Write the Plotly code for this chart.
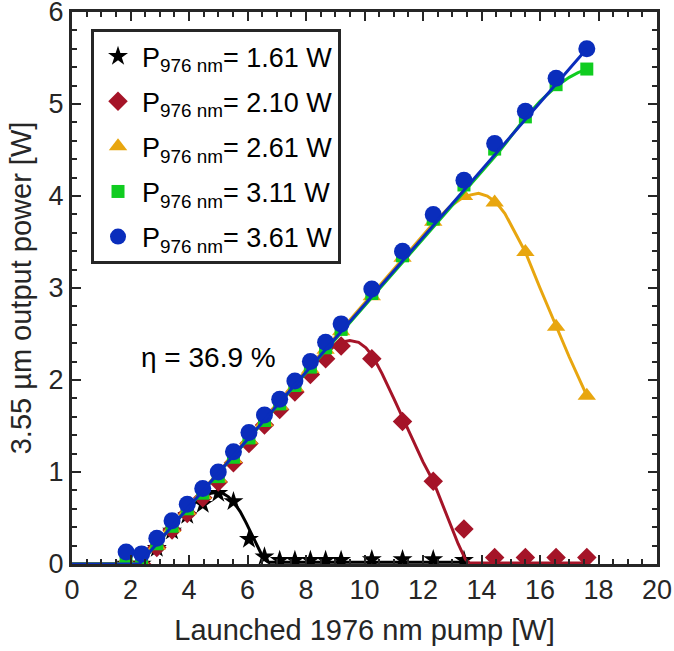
import plotly.graph_objects as go

# ---- measured data (launched 1976 nm pump [W] vs 3.55 um output [W]) ----
pump = [1.85, 2.38, 2.9, 3.42, 3.94, 4.47, 5.0, 5.52, 6.05, 6.58, 7.1, 7.62, 8.15,
        8.67, 9.2, 10.25, 11.3, 12.35, 13.4, 14.45, 15.5, 16.55, 17.6]

p161 = [0.0, 0.0, 0.17, 0.36, 0.53, 0.65, 0.77, 0.68, 0.27, 0.08, 0.04, 0.04, 0.04,
        0.04, 0.04, 0.05, 0.05, 0.05, 0.04]
p210 = [0.0, 0.0, 0.18, 0.37, 0.55, 0.72, 0.89, 1.10, 1.31, 1.51, 1.68, 1.87, 2.06,
        2.23, 2.37, 2.23, 1.55, 0.90, 0.38, 0.07, 0.07, 0.07, 0.07]
p261 = [0.04, 0.02, 0.20, 0.39, 0.58, 0.75, 0.93, 1.14, 1.35, 1.54, 1.72, 1.92, 2.12,
        2.33, 2.53, 2.91, 3.33, 3.72, 4.00, 3.93, 3.39, 2.58, 1.83]
p311 = [0.07, 0.04, 0.22, 0.41, 0.60, 0.77, 0.95, 1.16, 1.37, 1.56, 1.74, 1.94, 2.14,
        2.35, 2.55, 2.94, 3.35, 3.75, 4.12, 4.51, 4.86, 5.21, 5.38]
p361 = [0.13, 0.11, 0.28, 0.47, 0.65, 0.82, 1.00, 1.22, 1.43, 1.62, 1.79, 1.99, 2.20,
        2.41, 2.61, 2.99, 3.40, 3.80, 4.17, 4.57, 4.92, 5.28, 5.60]

# ---- fitted curves ----
fit161_x = [0, 2.3, 3.5, 4.0, 4.3, 4.55, 4.75, 4.95, 5.15, 5.35, 5.55, 5.75, 5.95, 6.15,
            6.35, 6.5, 6.62, 6.72, 13.4]
fit161_y = [0, 0, 0.44, 0.62, 0.69, 0.74, 0.77, 0.78, 0.77, 0.73, 0.66, 0.57, 0.45, 0.32,
            0.18, 0.09, 0.04, 0.02, 0.02]
fit210_x = [0, 2.3, 7.6, 8.2, 8.6, 8.9, 9.2, 9.5, 9.8, 10.05, 10.3, 10.6, 11.0, 11.33,
            11.7, 12.0, 12.35, 12.8, 13.2, 13.45, 13.6, 17.6]
fit210_y = [0, 0, 1.94, 2.15, 2.27, 2.35, 2.41, 2.43, 2.41, 2.35, 2.25, 2.07, 1.80, 1.57,
            1.30, 1.11, 0.90, 0.55, 0.22, 0.05, 0.01, 0.01]
fit261_x = [0, 2.3, 12.4, 12.9, 13.3, 13.6, 13.9, 14.2, 14.5, 14.8, 15.1, 15.5, 16.0,
            16.55, 17.0, 17.6]
fit261_y = [0, 0, 3.72, 3.88, 3.97, 4.01, 4.03, 4.00, 3.93, 3.81, 3.63, 3.39, 3.00,
            2.58, 2.25, 1.83]
fit311_x = [0, 2.3, 14.6, 15.0, 15.5, 16.0, 16.55, 17.0, 17.3, 17.6]
fit311_y = [0, 0, 4.48, 4.65, 4.85, 5.03, 5.19, 5.29, 5.34, 5.38]
fit361_x = [0, 2.3, 17.6]
fit361_y = [0, 0, 5.60]

names = ["P<sub>976 nm</sub>= 1.61 W", "P<sub>976 nm</sub>= 2.10 W",
         "P<sub>976 nm</sub>= 2.61 W", "P<sub>976 nm</sub>= 3.11 W",
         "P<sub>976 nm</sub>= 3.61 W"]
colors = ["#000000", "#A51428", "#E8A60F", "#10CC20", "#0A2DBC"]
symbols = ["star", "diamond", "triangle-up", "square", "circle"]
sizes = [15, 15, 16, 13, 17]
ys = [p161, p210, p261, p311, p361]
fits = [(fit161_x, fit161_y), (fit210_x, fit210_y), (fit261_x, fit261_y),
        (fit311_x, fit311_y), (fit361_x, fit361_y)]

FONT = "Liberation Sans, Arial, Helvetica, sans-serif"
AX = "#262626"

fig = go.Figure()
for i in range(5):
    fig.add_trace(go.Scatter(
        x=pump[:len(ys[i])], y=ys[i], mode="markers", name=names[i],
        legendgroup="g%d" % i,
        marker=dict(symbol=symbols[i], size=sizes[i], color=colors[i],
                    line=dict(width=0)),
        showlegend=True))
    fig.add_trace(go.Scatter(
        x=fits[i][0], y=fits[i][1], mode="lines", legendgroup="g%d" % i,
        line=dict(color=colors[i], width=3), showlegend=False, hoverinfo="skip"))

axis_common = dict(
    showgrid=False, zeroline=False, showline=True, linecolor=AX, linewidth=3,
    mirror="ticks", ticks="inside", tickcolor=AX, tickwidth=2, ticklen=9,
    tickfont=dict(family=FONT, size=27, color=AX), automargin=False,
    ticklabeloverflow="allow",
)
fig.update_xaxes(range=[0, 20], dtick=2, tick0=0,
                 minor=dict(dtick=0.5, ticks="inside", ticklen=5, tickwidth=2, tickcolor=AX),
                 title=dict(text="Launched 1976 nm pump [W]",
                            font=dict(family=FONT, size=29, color=AX), standoff=16),
                 **axis_common)
fig.update_yaxes(range=[0, 6], dtick=1, tick0=0,
                 minor=dict(dtick=0.2, ticks="inside", ticklen=5, tickwidth=2, tickcolor=AX),
                 title=dict(text="3.55 µm output power [W]",
                            font=dict(family=FONT, size=29, color=AX), standoff=9),
                 **axis_common)

fig.add_annotation(x=4.68, y=2.24, xref="x", yref="y", text="η = 36.9 %",
                   showarrow=False, font=dict(family=FONT, size=28, color="#000000"))

fig.update_layout(
    width=674, height=651,
    margin=dict(l=72, r=17, t=12, b=87),
    paper_bgcolor="white", plot_bgcolor="white",
    font=dict(family=FONT, size=28, color="#000000"),
    legend=dict(x=0.0325, y=0.969, xanchor="left", yanchor="top",
                bgcolor="white", bordercolor=AX, borderwidth=3,
                font=dict(family=FONT, size=27, color="#000000"),
                itemwidth=38, tracegroupgap=7),
    showlegend=True,
)

fig.write_html("out.html")
